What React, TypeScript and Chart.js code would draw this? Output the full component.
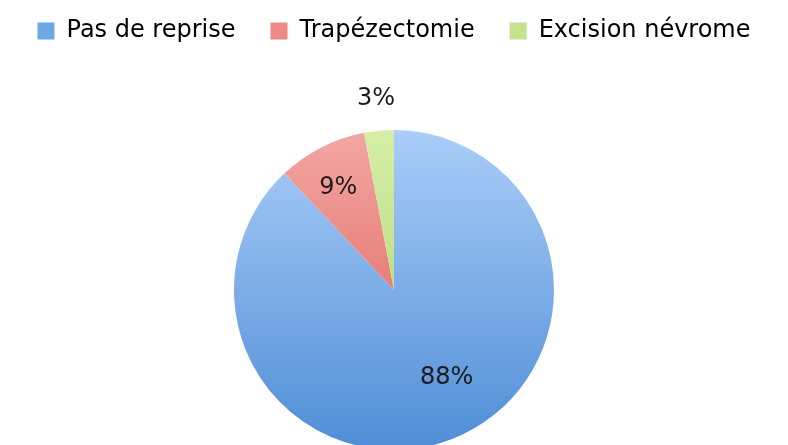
import React, { useEffect, useRef } from "react";
import { Chart, registerables } from "chart.js";

Chart.register(...registerables);

const categories = ["Pas de reprise", "Trapézectomie", "Excision névrome"];
const values = [88, 9, 3];
const valueLabels = ["88%", "9%", "3%"];

const gradientStops: [string, string][] = [
  ["#aacdf8", "#4f8dd6"],
  ["#f4a7a3", "#d9554f"],
  ["#d6eea8", "#a6d066"],
];
const legendColors = ["#6fa6e4", "#ec8a86", "#c3e38e"];

// label placement (fraction of radius, angular offset in degrees)
const labelPlacement = [
  { r: 0.64, dA: -9.4 },
  { r: 0.73, dA: -1.5 },
  { r: 1.2, dA: 0 },
];

const FONT = "'DejaVu Sans', sans-serif";

export default function App() {
  const ref = useRef<HTMLCanvasElement | null>(null);

  useEffect(() => {
    document.body.style.margin = "0";
    const canvas = ref.current;
    if (!canvas) return;

    const legendHeight = {
      id: "legendHeight",
      beforeInit(chart: any) {
        const legend = chart.legend;
        if (!legend) return;
        const orig = legend.fit;
        legend.fit = function () {
          orig.call(this);
          this.height = 146;
        };
      },
    };

    const pieLabels = {
      id: "pieLabels",
      afterDatasetsDraw(chart: any) {
        const meta = chart.getDatasetMeta(0);
        const ctx = chart.ctx;
        ctx.save();
        ctx.font = `24px ${FONT}`;
        ctx.fillStyle = "#1b1b1b";
        ctx.textAlign = "center";
        ctx.textBaseline = "middle";
        meta.data.forEach((arc: any, i: number) => {
          const p = arc.getProps(["x", "y", "startAngle", "endAngle", "outerRadius"], true);
          const a = (p.startAngle + p.endAngle) / 2 + (labelPlacement[i].dA * Math.PI) / 180;
          const r = p.outerRadius * labelPlacement[i].r;
          ctx.fillText(valueLabels[i], p.x + Math.cos(a) * r, p.y + Math.sin(a) * r);
        });
        ctx.restore();
      },
    };

    const chart = new Chart(canvas, {
      type: "pie",
      data: {
        labels: categories,
        datasets: [
          {
            data: values,
            borderWidth: 0,
            hoverOffset: 0,
            offset: 0,
            backgroundColor: (c: any) => {
              const i = c.dataIndex ?? 0;
              const area = c.chart.chartArea;
              if (!area) return legendColors[i];
              const g = c.chart.ctx.createLinearGradient(0, area.top, 0, area.bottom);
              g.addColorStop(0, gradientStops[i][0]);
              g.addColorStop(1, gradientStops[i][1]);
              return g;
            },
          },
        ],
      },
      options: {
        animation: false,
        responsive: false,
        events: [],
        layout: { padding: { top: -16, bottom: 0, left: 0, right: 0 } },
        plugins: {
          tooltip: { enabled: false },
          legend: {
            position: "top",
            labels: {
              boxWidth: 17,
              boxHeight: 17,
              padding: 35,
              color: "#1e1e1e",
              font: { family: FONT, size: 24 },
              generateLabels: () =>
                categories.map((t, i) => ({
                  text: t,
                  fillStyle: legendColors[i],
                  strokeStyle: legendColors[i],
                  lineWidth: 0,
                  hidden: false,
                  index: i,
                })),
            },
          },
        },
      },
      plugins: [legendHeight, pieLabels],
    });
    return () => chart.destroy();
  }, []);

  return (
    <div style={{ position: "absolute", left: 0, top: 0, width: 788, height: 445, overflow: "hidden" }}>
      <canvas ref={ref} width={788} height={450} />
    </div>
  );
}
